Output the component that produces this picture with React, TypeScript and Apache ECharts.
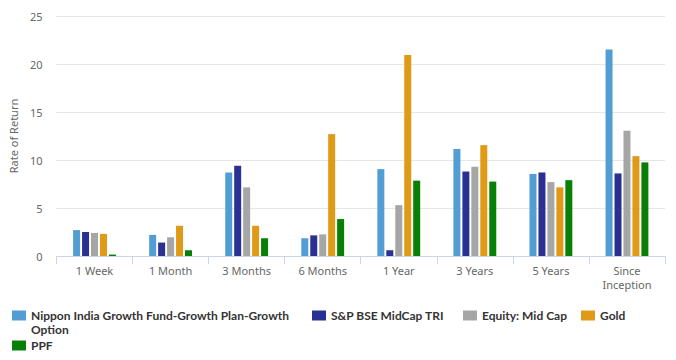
import React, { useEffect, useRef } from "react";
import * as echarts from "echarts";

const categories = ["1 Week", "1 Month", "3 Months", "6 Months", "1 Year", "3 Years", "5 Years", "Since\nInception"];
const seriesNames = [
  "Nippon India Growth Fund-Growth Plan-Growth Option",
  "S&P BSE MidCap TRI",
  "Equity: Mid Cap",
  "Gold",
  "PPF",
];
const fundValues = [2.7, 2.2, 8.7, 1.85, 9.05, 11.15, 8.55, 21.5];
const indexValues = [2.5, 1.4, 9.4, 2.15, 0.6, 8.8, 8.7, 8.6];
const categoryValues = [2.4, 1.95, 7.15, 2.25, 5.3, 9.3, 7.7, 13.05];
const goldValues = [2.3, 3.15, 3.15, 12.7, 20.95, 11.55, 7.15, 10.4];
const ppfValues = [0.15, 0.6, 1.85, 3.85, 7.85, 7.75, 7.9, 9.75];
const yTicks = { min: 0, max: 25, interval: 5 };

const colors = ["#519dd4", "#2b3192", "#a6a6a6", "#df9b17", "#088008"];
const allValues = [fundValues, indexValues, categoryValues, goldValues, ppfValues];

export default function App() {
  const ref = useRef<HTMLDivElement>(null);
  useEffect(() => {
    const chart = echarts.init(ref.current!, null, { renderer: "svg" });
    const legendFont = {
      fontFamily: "Lato, 'Noto Sans', sans-serif",
      fontWeight: "bold" as const,
      fontSize: 12,
      color: "#333333",
    };
    const legendPos = [
      { left: 12, top: 309 },
      { left: 312, top: 309 },
      { left: 463, top: 309 },
      { left: 581, top: 309 },
      { left: 12, top: 339 },
    ];
    chart.setOption({
      animation: false,
      color: colors,
      grid: { left: 56, right: 11, top: 16, bottom: 104 },
      legend: seriesNames.map((name, i) => ({
        data: [name],
        left: legendPos[i].left,
        top: legendPos[i].top,
        padding: 0,
        itemWidth: 14,
        itemHeight: 10,
        icon: "rect",
        formatter: (n: string) =>
          i === 0 ? "Nippon India Growth Fund-Growth Plan-Growth" : n,
        textStyle: { ...legendFont, lineHeight: 13 },
      })),
      graphic: [
        {
          type: "text",
          left: 31,
          top: 323,
          style: { text: "Option", ...legendFont, lineHeight: 12, fill: "#333333" },
        },
      ],
      xAxis: {
        type: "category",
        data: categories,
        axisLine: { lineStyle: { color: "#ccd6eb" } },
        axisTick: { show: true, length: 8, lineStyle: { color: "#ccd6eb" } },
        axisLabel: {
          color: "#666666",
          fontSize: 11,
          fontFamily: "'Noto Sans', sans-serif",
          margin: 7,
          lineHeight: 14,
          interval: 0,
        },
      },
      yAxis: {
        type: "value",
        min: yTicks.min,
        max: yTicks.max,
        interval: yTicks.interval,
        name: "Rate of Return",
        nameLocation: "middle",
        nameGap: 36,
        nameTextStyle: { color: "#666666", fontSize: 11, fontFamily: "'Noto Sans', sans-serif" },
        axisLine: { show: false },
        axisTick: { show: false },
        axisLabel: { color: "#666666", fontSize: 11, fontFamily: "'Noto Sans', sans-serif", margin: 14 },
        splitLine: { lineStyle: { color: "#e6e6e6" } },
      },
      series: seriesNames.map((name, i) => ({
        name,
        type: "bar",
        data: allValues[i],
        barWidth: 7,
        barGap: "28%",
        itemStyle: { borderWidth: 0 },
      })),
    });
    return () => chart.dispose();
  }, []);
  return <div ref={ref} style={{ width: 676, height: 360, marginLeft: -8, marginTop: -8 }} />;
}
